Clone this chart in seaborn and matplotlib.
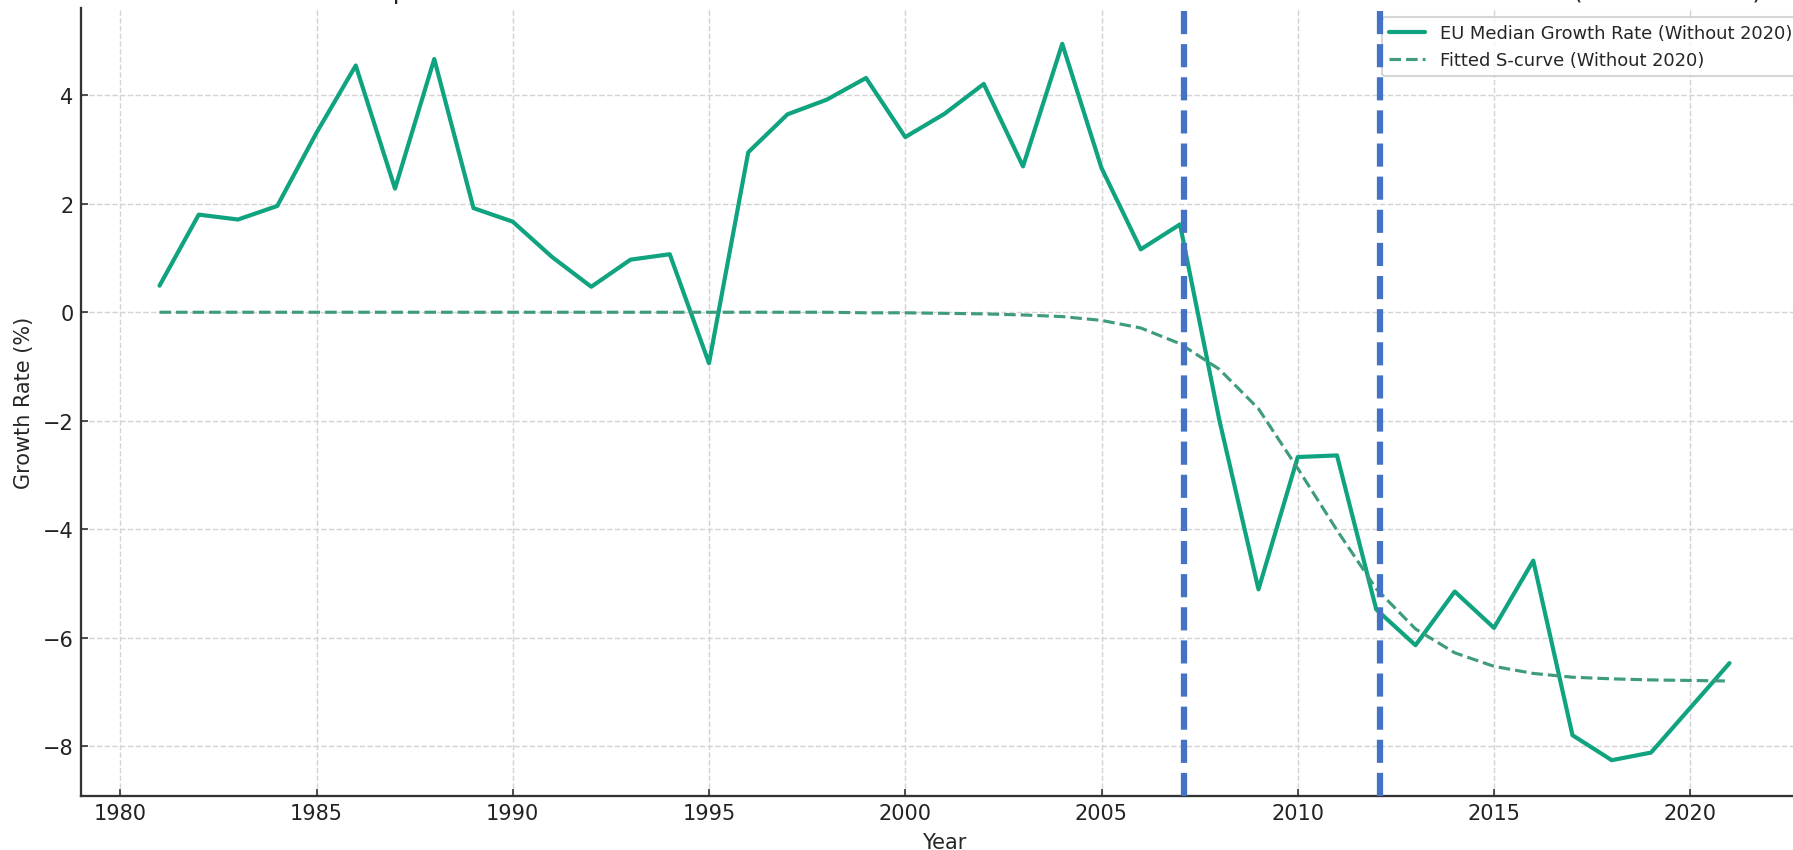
import matplotlib
matplotlib.use('Agg')
import matplotlib.pyplot as plt
import seaborn as sns

# EU median growth rate, 2020 left out
years = [1981, 1982, 1983, 1984, 1985, 1986, 1987, 1988, 1989, 1990,
         1991, 1992, 1993, 1994, 1995, 1996, 1997, 1998, 1999, 2000,
         2001, 2002, 2003, 2004, 2005, 2006, 2007, 2008, 2009, 2010,
         2011, 2012, 2013, 2014, 2015, 2016, 2017, 2018, 2019, 2021]
growth = [0.49, 1.80, 1.71, 1.96, 3.31, 4.55, 2.28, 4.67, 1.92, 1.67,
          1.02, 0.47, 0.97, 1.07, -0.94, 2.95, 3.65, 3.92, 4.32, 3.23,
          3.66, 4.21, 2.69, 4.95, 2.66, 1.16, 1.62, -1.98, -5.11, -2.67,
          -2.64, -5.48, -6.14, -5.15, -5.82, -4.58, -7.80, -8.26, -8.12, -6.47]
fitted = [0.0, 0.0, 0.0, 0.0, 0.0, 0.0, 0.0, 0.0, 0.0, 0.0,
          0.0, 0.0, 0.0, 0.0, 0.0, 0.0, 0.0, 0.0, -0.01, -0.01,
          -0.02, -0.03, -0.05, -0.08, -0.15, -0.29, -0.58, -1.05, -1.78, -2.88,
          -4.02, -5.10, -5.84, -6.28, -6.53, -6.66, -6.73, -6.76, -6.78, -6.80]
break_years = [2007.1, 2012.1]

# the title sits mostly above the top edge, as in the cropped original
title = ("Real EU Median GDP per Head Annual Growth Rate with Fitted S-curve and "
         "Marked Crisis Breaks at 2007 and 2012 (Without 2020)")

sns.set_style('whitegrid', {
    'grid.linestyle': '--',
    'grid.color': '#d4d4d4',
    'axes.edgecolor': '#333333',
    'xtick.bottom': True,
    'ytick.left': True,
    'xtick.direction': 'in',
    'ytick.direction': 'in',
    'axes.spines.top': False,
    'axes.spines.right': False,
})
plt.rcParams['font.family'] = ['DejaVu Sans']
plt.rcParams['grid.linewidth'] = 0.7
plt.rcParams['axes.linewidth'] = 1.1
plt.rcParams['xtick.color'] = '#333333'
plt.rcParams['ytick.color'] = '#333333'

fig = plt.figure(figsize=(1793 / 150, 851 / 150), dpi=150)
ax = fig.add_axes([81 / 1793, 54 / 851, 1727 / 1793, 788 / 851])

sns.lineplot(x=years, y=growth, ax=ax, color='#10a37f', linewidth=2,
             label='EU Median Growth Rate (Without 2020)')
sns.lineplot(x=years, y=fitted, ax=ax, color='#3f9b7e', linewidth=1.5,
             linestyle='--', label='Fitted S-curve (Without 2020)')

for yr in break_years:
    ax.axvline(yr, color='#4472c4', linestyle='--', linewidth=3, zorder=6)

ax.set_title(title, fontsize=12, pad=4.8)
ax.set_xlabel('Year', fontsize=10)
ax.set_ylabel('Growth Rate (%)', fontsize=10)
ax.tick_params(labelsize=10, length=3.5, colors='#333333', labelcolor='#222222')
ax.legend(loc='upper right', fontsize=8.6, frameon=True)

fig.savefig('out.png', dpi=150)
